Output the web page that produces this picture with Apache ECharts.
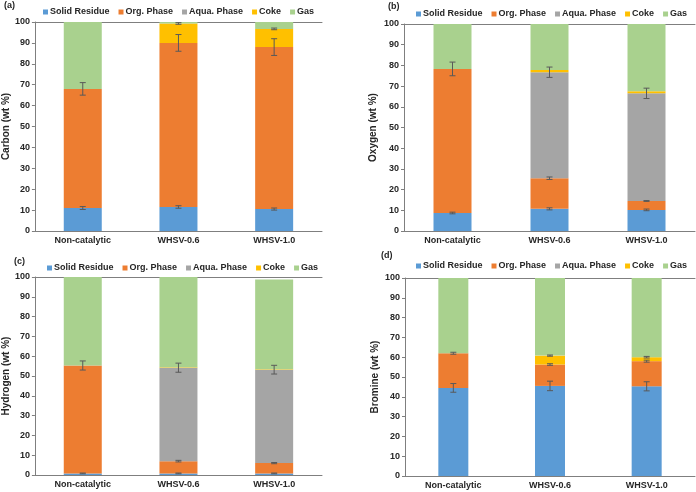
<!DOCTYPE html>
<html>
<head>
<meta charset="utf-8">
<script src="https://cdn.jsdelivr.net/npm/echarts@6/dist/echarts.min.js"></script>
<style>
  html, body { margin: 0; padding: 0; background: #fff; }
  #main { width: 696px; height: 492px; }
</style>
</head>
<body>
<div id="main"></div>
<script>
// categories and legend names
const categories = ['Non-catalytic', 'WHSV-0.6', 'WHSV-1.0']
const seriesNames = ['Solid Residue', 'Org. Phase', 'Aqua. Phase', 'Coke', 'Gas']
const colors = ['#5B9BD5', '#ED7D31', '#A5A5A5', '#FFC000', '#A9D18E']

// one row per series (Solid, Org, Aqua, Coke, Gas), one column per category
const carbon = [[11.0, 11.5, 10.5], [57.0, 78.5, 77.5], [0, 0, 0], [0, 9.3, 8.7], [32.0, 0.7, 3.3]]
const carbonErr = [[0.7, 0.6, 0.5], [3.0, 4.0, 4.0], [0, 0, 0], [0, 0.4, 0.4], [0, 0, 0]]

const oxygen = [[8.7, 10.7, 10.2], [69.6, 14.8, 4.3], [0, 51.2, 52.0], [0, 1.1, 1.0], [21.7, 22.2, 32.5]]
const oxygenErr = [[0.4, 0.5, 0.4], [3.3, 0.6, 0.2], [0, 2.5, 2.5], [0, 0, 0], [0, 0, 0]]

const hydrogen = [[0.8, 0.8, 0.8], [54.5, 6.2, 5.2], [0, 47.2, 47.2], [0, 0.2, 0.2], [44.7, 45.6, 45.3]]
const hydrogenErr = [[0.2, 0.2, 0.2], [2.3, 0.4, 0.3], [0, 2.3, 2.2], [0, 0, 0], [0, 0, 0]]

const bromine = [[44.5, 45.5, 45.3], [17.5, 10.8, 12.7], [0, 0, 0], [0, 4.5, 2.0], [38.0, 39.2, 40.0]]
const bromineErr = [[2.2, 2.4, 2.3], [0.5, 0.4, 0.5], [0, 0, 0], [0, 0.3, 0.4], [0, 0, 0]]

const panels = [
  { label: '(a)', yName: 'Carbon (wt %)', values: carbon, errs: carbonErr,
    grid: { left: 33, right: 374, top: 22, bottom: 261 }, legendPos: [43, 7.5], labelPos: [4, 1], nameGap: 22, barWidth: 38 },
  { label: '(b)', yName: 'Oxygen (wt %)', values: oxygen, errs: oxygenErr,
    grid: { left: 404, right: 1, top: 24, bottom: 261 }, legendPos: [416, 9.5], labelPos: [388, 2], nameGap: 26, barWidth: 38 },
  { label: '(c)', yName: 'Hydrogen (wt %)', values: hydrogen, errs: hydrogenErr,
    grid: { left: 33, right: 374, top: 277, bottom: 17 }, legendPos: [47, 263.5], labelPos: [14, 257], nameGap: 23, barWidth: 38 },
  { label: '(d)', yName: 'Bromine (wt %)', values: bromine, errs: bromineErr,
    grid: { left: 405, right: 1, top: 278, bottom: 16 }, legendPos: [416, 261.5], labelPos: [381, 251], nameGap: 25, barWidth: 30 }
]

const font = { fontFamily: 'Liberation Sans, Arial, sans-serif', fontWeight: 'bold', color: '#262626' }
const axisGray = '#7F7F7F'

const option = {
  animation: false,
  backgroundColor: '#fff',
  title: [], legend: [], grid: [], xAxis: [], yAxis: [], series: []
}

panels.forEach((p, k) => {
  option.title.push({
    text: p.label, left: p.labelPos[0], top: p.labelPos[1], padding: 0,
    textStyle: { ...font, fontSize: 9 }
  })
  option.legend.push({
    data: seriesNames,
    left: p.legendPos[0], top: p.legendPos[1], padding: 0, width: 320,
    orient: 'horizontal',
    icon: 'rect', itemWidth: 5, itemHeight: 5, itemGap: 9,
    textStyle: { ...font, fontSize: 9, padding: [0, 0, 0, -3] }
  })
  option.grid.push({ ...p.grid, containLabel: false })
  // bottom category axis
  option.xAxis.push({
    type: 'category', data: categories, gridIndex: k,
    axisLine: { lineStyle: { color: axisGray, width: 1 } },
    axisTick: { show: false },
    axisLabel: { ...font, fontSize: 9, margin: 5 }
  })
  // top border line of plot area
  option.xAxis.push({
    type: 'category', data: categories, gridIndex: k, position: 'top',
    axisLine: { lineStyle: { color: axisGray, width: 1 } },
    axisTick: { show: false }, axisLabel: { show: false }
  })
  option.yAxis.push({
    type: 'value', gridIndex: k, min: 0, max: 100, interval: 10,
    name: p.yName, nameLocation: 'middle', nameGap: p.nameGap,
    nameTextStyle: { ...font, fontSize: 10 },
    axisLine: { show: true, lineStyle: { color: axisGray, width: 1 } },
    axisTick: { show: true, length: 3, lineStyle: { color: axisGray } },
    axisLabel: { ...font, fontSize: 9, margin: 5 },
    splitLine: { show: false }
  })

  const cum = [0, 0, 0]
  const errData = []
  seriesNames.forEach((name, i) => {
    option.series.push({
      name, type: 'bar', stack: 'panel' + k,
      xAxisIndex: 2 * k, yAxisIndex: k,
      barWidth: p.barWidth,
      itemStyle: { color: colors[i] },
      data: p.values[i]
    })
    p.values[i].forEach((v, j) => {
      cum[j] += v
      if (p.errs[i][j] > 0) errData.push([j, cum[j], p.errs[i][j]])
    })
  })

  option.series.push({
    name: 'err' + k, type: 'custom',
    xAxisIndex: 2 * k, yAxisIndex: k, z: 10,
    data: errData,
    renderItem: (params, api) => {
      const x = api.value(0)
      const y = api.value(1)
      const e = api.value(2)
      const hi = api.coord([x, y + e])
      const lo = api.coord([x, y - e])
      const w = 3
      const style = { stroke: '#595959', lineWidth: 1 }
      return {
        type: 'group',
        children: [
          { type: 'line', shape: { x1: hi[0], y1: hi[1], x2: lo[0], y2: lo[1] }, style },
          { type: 'line', shape: { x1: hi[0] - w, y1: hi[1], x2: hi[0] + w, y2: hi[1] }, style },
          { type: 'line', shape: { x1: lo[0] - w, y1: lo[1], x2: lo[0] + w, y2: lo[1] }, style }
        ]
      }
    }
  })
})

const chart = echarts.init(document.getElementById('main'))
chart.setOption(option)
</script>
</body>
</html>
